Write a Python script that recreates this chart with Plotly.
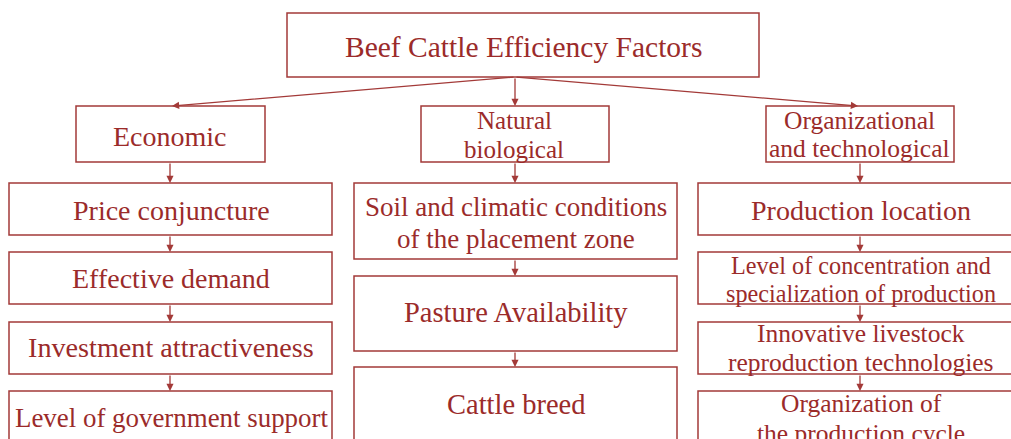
import plotly.graph_objects as go

# ---- content ----
title_label = "Beef Cattle Efficiency Factors"
category_labels = ["Economic", "Natural<br>biological", "Organizational<br>and technological"]
economic_factors = ["Price conjuncture", "Effective demand", "Investment attractiveness",
                    "Level of government support"]
natural_factors = ["Soil and climatic conditions<br>of the placement zone", "Pasture Availability",
                   "Cattle breed"]
org_factors = ["Production location", "Level of concentration and<br>specialization of production",
               "Innovative livestock<br>reproduction technologies", "Organization of<br>the production cycle"]

# ---- layout geometry (page pixels, y downward) ----
W, H = 1011, 439
LINE = "#A33A38"
TEXT = "#9B2B2A"
FONT = "Liberation Serif, Times New Roman, serif"

title_box = (287, 13, 759, 77)
title_pos = (523, 46.5)
title_font = 29.5

cat_boxes = [(76, 106, 265, 162), (421, 106, 609, 162), (766, 106, 954, 162)]
cat_text_x = [170, 514, 859]
cat_line_y = [[136.5], [120, 149], [120, 148.5]]
cat_fonts = [28, 25, 25.5]
cat_arrow_tips = [172, 515, 858]
origin = (515, 77)

col_x = [(9, 332), (354, 677), (698, 1030)]
col_centers = [170, 515, 860]
text_centers = [171, 516, 861]
col_rows = [
    [(183, 235), (252, 304), (322, 374), (391, 452)],
    [(183, 259), (276, 351), (367, 452)],
    [(183, 235), (252, 304), (322, 374), (391, 452)],
]
col_line_y = [
    [[210], [278], [347.5], [418]],
    [[207, 238.5], [312.5], [404.5]],
    [[210], [265, 293], [333.5, 362.5], [403.5, 433]],
]
col_font = [
    [28, 28, 28.2, 26.9],
    [27, 28.5, 28.5],
    [28, 24.2, 25.5, 25.5],
]
columns = [economic_factors, natural_factors, org_factors]

fig = go.Figure()
shapes, annotations = [], []

def box(x0, y0, x1, y1):
    shapes.append(dict(type="rect", xref="x", yref="y", x0=x0, y0=y0, x1=x1, y1=y1,
                       line=dict(color=LINE, width=1.5), fillcolor="rgba(0,0,0,0)"))

def label(x, ys, text, size):
    for yy, part in zip(ys, text.split("<br>")):
        annotations.append(dict(x=x, y=yy, xref="x", yref="y", text=part, showarrow=False,
                                font=dict(family=FONT, size=size, color=TEXT),
                                xanchor="center", yanchor="middle"))

def arrow(x0, y0, x1, y1):
    annotations.append(dict(x=x1, y=y1, ax=x0, ay=y0, xref="x", yref="y", axref="x", ayref="y",
                            text="", showarrow=True, arrowhead=2, arrowsize=1.1, arrowwidth=1.3,
                            arrowcolor=LINE, standoff=0, startstandoff=0))

# title
box(*title_box)
label(title_pos[0], [title_pos[1]], title_label, title_font)
for i, cb in enumerate(cat_boxes):
    box(*cb)
    label(cat_text_x[i], cat_line_y[i], category_labels[i], cat_fonts[i])
    arrow(origin[0], origin[1], cat_arrow_tips[i], cb[1])
    arrow(col_centers[i], cb[3], col_centers[i], col_rows[i][0][0])

for c, items in enumerate(columns):
    x0, x1 = col_x[c]
    for r, txt in enumerate(items):
        y0, y1 = col_rows[c][r]
        box(x0, y0, x1, y1)
        label(text_centers[c], col_line_y[c][r], txt, col_font[c][r])
        if r + 1 < len(items):
            arrow(col_centers[c], y1, col_centers[c], col_rows[c][r + 1][0])

fig.update_layout(
    width=W, height=H, margin=dict(l=0, r=0, t=0, b=0),
    paper_bgcolor="white", plot_bgcolor="white",
    xaxis=dict(range=[0, W], visible=False, fixedrange=True),
    yaxis=dict(range=[H, 0], visible=False, fixedrange=True),
    shapes=shapes, annotations=annotations, showlegend=False,
)
fig.write_html(
    "out.html",
    config={"displayModeBar": False},
    post_script="document.body.style.margin='0';document.body.style.overflow='hidden';",
)
